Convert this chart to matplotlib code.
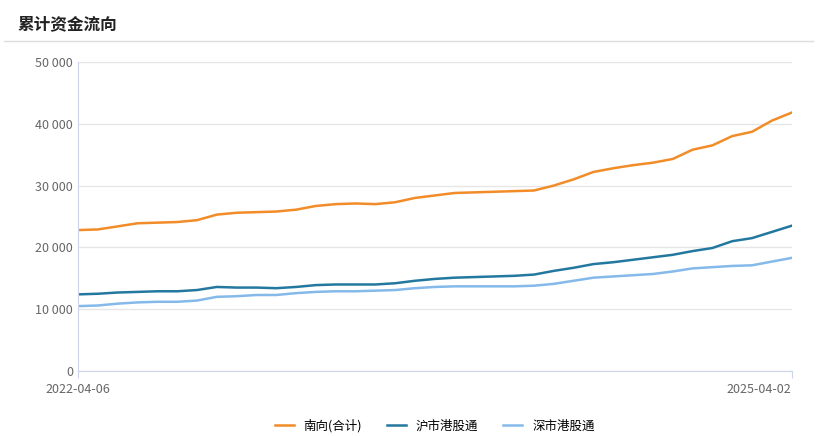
import matplotlib
matplotlib.use("Agg")
import matplotlib.pyplot as plt
import pandas as pd

plt.rcParams['font.family'] = ['Noto Sans CJK SC', 'DejaVu Sans']

dates = pd.date_range("2022-04-06", "2025-04-02", periods=37)
southbound = [22800, 22900, 23400, 23900, 24000, 24100, 24400, 25300, 25600, 25700, 25800, 26100,
              26700, 27000, 27100, 27000, 27300, 28000, 28400, 28800, 28900, 29000, 29100, 29200,
              30000, 31000, 32200, 32800, 33300, 33700, 34300, 35800, 36500, 38000, 38700, 40500, 41800]
shanghai = [12400, 12500, 12700, 12800, 12900, 12900, 13100, 13600, 13500, 13500, 13400, 13600,
            13900, 14000, 14000, 14000, 14200, 14600, 14900, 15100, 15200, 15300, 15400, 15600,
            16200, 16700, 17300, 17600, 18000, 18400, 18800, 19400, 19900, 21000, 21500, 22500, 23500]
shenzhen = [10500, 10600, 10900, 11100, 11200, 11200, 11400, 12000, 12100, 12300, 12300, 12600,
            12800, 12900, 12900, 13000, 13100, 13400, 13600, 13700, 13700, 13700, 13700, 13800,
            14100, 14600, 15100, 15300, 15500, 15700, 16100, 16600, 16800, 17000, 17100, 17700, 18300]
labels = ["南向(合计)", "沪市港股通", "深市港股通"]
colors = ["#f28c28", "#23789f", "#84b9ea"]
yticks = [0, 10000, 20000, 30000, 40000, 50000]

fig = plt.figure(figsize=(8.17, 4.36), dpi=100)
fig.text(0.022, 0.945, "累计资金流向", fontsize=12, fontweight='bold', va='center', color='#222222')
fig.add_artist(plt.Line2D([0.005, 0.995], [0.905, 0.905], color='#dddddd', lw=1))
ax = fig.add_axes([0.0955, 0.149, 0.8735, 0.709])
for s, l, c in zip([southbound, shanghai, shenzhen], labels, colors):
    ax.plot(dates, s, color=c, lw=1.8, label=l)
ax.set_xlim(dates[0], dates[-1])
ax.set_ylim(0, 50000)
ax.set_yticks(yticks)
ax.set_yticklabels([f"{v:,}".replace(",", " ") for v in yticks])
ax.set_xticks([dates[0], dates[-1]])
xl = ax.set_xticklabels(["2022-04-06", "2025-04-02"])
xl[-1].set_horizontalalignment('right')
ax.grid(axis='y', color='#e6e6e6', lw=1)
for sp in ['top', 'right']:
    ax.spines[sp].set_visible(False)
ax.spines['left'].set_color('#ccd6eb')
ax.spines['bottom'].set_color('#ccd6eb')
ax.tick_params(colors='#666666', labelsize=9, length=0)
ax.tick_params(axis='x', length=5, color='#ccd6eb')
ax.legend(loc='upper center', bbox_to_anchor=(0.5, -0.12), ncol=3, frameon=False, fontsize=9,
          handlelength=1.5, columnspacing=2)
fig.savefig("out.png", dpi=100)
